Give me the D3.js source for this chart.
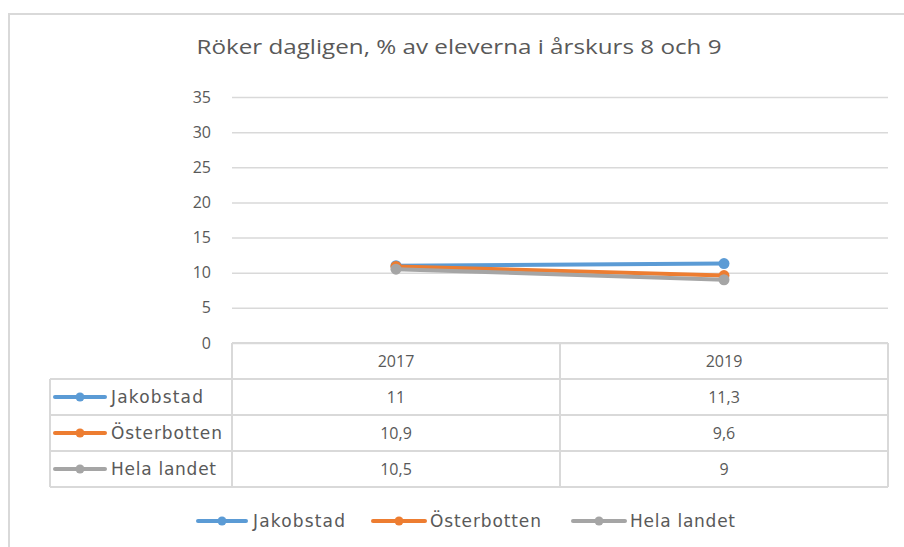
<!DOCTYPE html>
<html>
<head>
<meta charset="utf-8">
<script src="https://cdn.jsdelivr.net/npm/d3@7"></script>
<style>
  html, body { margin: 0; padding: 0; background: #fff; }
  svg { display: block; }
</style>
</head>
<body>
<svg id="chart" width="904" height="547"></svg>
<script>
const title = "Röker dagligen, % av eleverna i årskurs 8 och 9";
const categories = ["2017", "2019"];
const seriesNames = ["Jakobstad", "Österbotten", "Hela landet"];
const jakobstad = [11, 11.3];
const osterbotten = [10.9, 9.6];
const helaLandet = [10.5, 9];
const tableLabels = [["11", "11,3"], ["10,9", "9,6"], ["10,5", "9"]];
const yTicks = [0, 5, 10, 15, 20, 25, 30, 35];
const colors = ["#5b9bd5", "#ed7d31", "#a5a5a5"];

const series = [jakobstad, osterbotten, helaLandet].map((v, i) => ({
  name: seriesNames[i], values: v, color: colors[i], labels: tableLabels[i]
}));
const nameWidths = [92, 111, 105];

const svg = d3.select("#chart");
const textColor = "#595959";
const gridColor = "#d9d9d9";
const font = "'Open Sans', 'Liberation Sans', sans-serif";
const tableFont = "'DejaVu Sans', Verdana, sans-serif";

// outer border
svg.append("path")
  .attr("d", "M9,547 L9,14 L904,14")
  .attr("fill", "none").attr("stroke", "#d9d9d9").attr("stroke-width", 2);

// title
svg.append("text")
  .attr("x", 459).attr("y", 54)
  .attr("text-anchor", "middle")
  .attr("font-family", font).attr("font-size", 20)
  .attr("fill", textColor)
  .attr("textLength", 525).attr("lengthAdjust", "spacingAndGlyphs")
  .text(title);

const plotLeft = 232, plotRight = 888, plotTop = 97, plotBottom = 343;
const x = d3.scaleBand().domain(categories).range([plotLeft, plotRight]);
const y = d3.scaleLinear().domain([0, 35]).range([plotBottom, plotTop]);

// gridlines via axis
const gridAxis = d3.axisLeft(y).tickValues(yTicks).tickSize(-(plotRight - plotLeft)).tickFormat("");
const grid = svg.append("g").attr("transform", `translate(${plotLeft},0)`).call(gridAxis);
grid.select(".domain").remove();
grid.selectAll("line").attr("stroke", gridColor).attr("stroke-width", 1.5);

// y axis labels
const yAxis = d3.axisLeft(y).tickValues(yTicks).tickSize(0).tickPadding(0);
const ya = svg.append("g").attr("transform", `translate(211,0)`).call(yAxis);
ya.select(".domain").remove();
ya.selectAll("text").attr("font-family", font).attr("font-size", 16)
  .attr("fill", textColor);

// data table
const tableLeft = 50;
const rowEdges = [343, 379, 415, 451, 487];
const tg = svg.append("g");
const lineStyle = s => s.attr("stroke", gridColor).attr("stroke-width", 2).attr("fill", "none");
rowEdges.forEach((ry, i) => {
  tg.append("line").attr("x1", i === 0 ? plotLeft : tableLeft).attr("x2", plotRight)
    .attr("y1", ry).attr("y2", ry).call(lineStyle);
});
tg.append("line").attr("x1", tableLeft).attr("x2", tableLeft).attr("y1", rowEdges[1]).attr("y2", rowEdges[4]).call(lineStyle);
[plotLeft, plotLeft + x.bandwidth(), plotRight].forEach(vx => {
  tg.append("line").attr("x1", vx).attr("x2", vx).attr("y1", rowEdges[0]).attr("y2", rowEdges[4]).call(lineStyle);
});
categories.forEach(c => {
  tg.append("text").attr("x", x(c) + x.bandwidth() / 2).attr("y", (rowEdges[0] + rowEdges[1]) / 2)
    .attr("dy", "0.35em").attr("text-anchor", "middle")
    .attr("font-family", font).attr("font-size", 16).attr("fill", textColor).text(c);
});
series.forEach((s, i) => {
  const cy = (rowEdges[i + 1] + rowEdges[i + 2]) / 2;
  tg.append("line").attr("x1", 55).attr("x2", 105).attr("y1", cy).attr("y2", cy)
    .attr("stroke", s.color).attr("stroke-width", 4).attr("stroke-linecap", "round");
  tg.append("circle").attr("cx", 80).attr("cy", cy).attr("r", 4.5).attr("fill", s.color);
  tg.append("text").attr("x", 111).attr("y", cy).attr("dy", "0.35em")
    .attr("font-family", tableFont).attr("font-size", 17).attr("fill", textColor)
    .attr("textLength", nameWidths[i]).attr("lengthAdjust", "spacing")
    .text(s.name);
  categories.forEach((c, j) => {
    tg.append("text").attr("x", x(c) + x.bandwidth() / 2).attr("y", cy).attr("dy", "0.35em")
      .attr("text-anchor", "middle").attr("font-family", font).attr("font-size", 16)
      .attr("fill", textColor).text(s.labels[j]);
  });
});

// lines
const line = d3.line().x((d, i) => x(categories[i]) + x.bandwidth() / 2).y(d => y(d));
series.forEach(s => {
  const g = svg.append("g");
  g.append("path").datum(s.values).attr("d", line)
    .attr("fill", "none").attr("stroke", s.color).attr("stroke-width", 4).attr("stroke-linecap", "round");
  g.selectAll("circle").data(s.values).join("circle")
    .attr("cx", (d, i) => x(categories[i]) + x.bandwidth() / 2)
    .attr("cy", d => y(d)).attr("r", 5.5).attr("fill", s.color);
});

// bottom legend
const legendItems = [
  { x1: 198, x2: 246, tx: 253 },
  { x1: 373, x2: 425, tx: 430 },
  { x1: 573, x2: 625, tx: 630 }
];
const ly = 521;
series.forEach((s, i) => {
  const li = legendItems[i];
  svg.append("line").attr("x1", li.x1).attr("x2", li.x2).attr("y1", ly).attr("y2", ly)
    .attr("stroke", s.color).attr("stroke-width", 4).attr("stroke-linecap", "round");
  svg.append("circle").attr("cx", (li.x1 + li.x2) / 2).attr("cy", ly).attr("r", 4.5).attr("fill", s.color);
  svg.append("text").attr("x", li.tx).attr("y", ly).attr("dy", "0.35em")
    .attr("font-family", tableFont).attr("font-size", 17).attr("fill", textColor)
    .attr("textLength", nameWidths[i]).attr("lengthAdjust", "spacing")
    .text(s.name);
});
</script>
</body>
</html>
